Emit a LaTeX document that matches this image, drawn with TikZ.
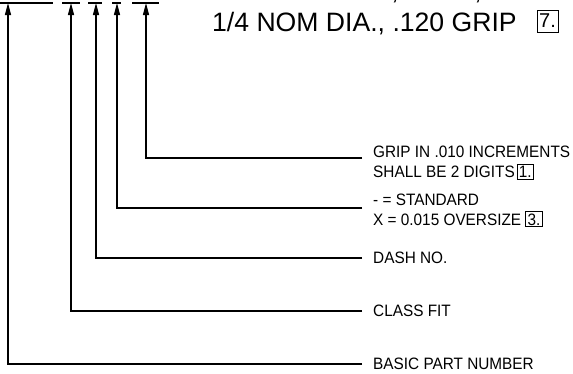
\documentclass[tikz,border=0pt]{standalone}
\usepackage{fontspec}
\setmainfont{Liberation Sans}
\newfontfamily\lblfont{Liberation Sans}[FakeStretch=0.93]
\usetikzlibrary{arrows.meta}
\tikzset{
  ln/.style={line width=1.3pt, line cap=butt},
  lead/.style={ln, -{Triangle[length=12pt,width=6pt]}},
  lbl/.style={anchor=base west, inner sep=0pt, font=\lblfont\fontsize{16.5}{20}\selectfont},
  big/.style={anchor=base west, inner sep=0pt, font=\fontsize{26.6}{30}\selectfont},
}
\newcommand{\numbox}[1]{{\setlength{\fboxsep}{1.2pt}\setlength{\fboxrule}{1pt}\fbox{#1}}}
\begin{document}
\begin{tikzpicture}[x=1pt,y=-1pt]
\useasboundingbox (0,0) rectangle (573,373);
% partially visible line above
\node[big, anchor=base] (c1) at (395,-1) {,};
\node[big, anchor=base] (c2) at (478,-1) {,};
% second line of callout
\node[big] (title) at (212,31.5) {1/4 NOM DIA., .120 GRIP};
\node[draw, line width=1pt, inner sep=0pt, minimum width=21pt, minimum height=22pt,
      font=\fontsize{20}{20}\selectfont] (n7) at (547.5,21) {7.};
% bars under the part number
\coordinate (b1l) at (0,3);   \coordinate (b1r) at (53,3);
\coordinate (b2l) at (62,3);  \coordinate (b2r) at (80,3);
\coordinate (b3l) at (88,3);  \coordinate (b3r) at (102,3);
\coordinate (b4l) at (112,3); \coordinate (b4r) at (121,3);
\coordinate (b5l) at (132,3); \coordinate (b5r) at (159,3);
\draw[ln] (b1l) -- (b1r);
\draw[ln] (b2l) -- (b2r);
\draw[ln] (b3l) -- (b3r);
\draw[ln] (b4l) -- (b4r);
\draw[ln] (b5l) -- (b5r);
\coordinate (t1) at (8,3);
\coordinate (t2) at (71,3);
\coordinate (t3) at (96,3);
\coordinate (t4) at (117,3);
\coordinate (t5) at (146,3);
% labels
\node[lbl] (grip1) at (373,157) {GRIP IN .010 INCREMENTS};
\node[lbl] (grip2) at (373,177.5) {SHALL BE 2 DIGITS\hspace{2pt}\numbox{1.}};
\node[lbl] (std1) at (373,205) {- = STANDARD};
\node[lbl] (std2) at (373,225) {X = 0.015 OVERSIZE \numbox{3.}};
\node[lbl] (dash) at (373,263.5) {DASH NO.};
\node[lbl] (cls) at (373,316.5) {CLASS FIT};
\node[lbl] (basic) at (373,369.5) {BASIC PART NUMBER};
% leader ends
\coordinate (e5) at (362,158);
\coordinate (e4) at (362,208);
\coordinate (e3) at (362,258);
\coordinate (e2) at (362,311);
\coordinate (e1) at (362,364);
\draw[lead] (e5) -| (t5);
\draw[lead] (e4) -| (t4);
\draw[lead] (e3) -| (t3);
\draw[lead] (e2) -| (t2);
\draw[lead] (e1) -| (t1);
\end{tikzpicture}
\end{document}
